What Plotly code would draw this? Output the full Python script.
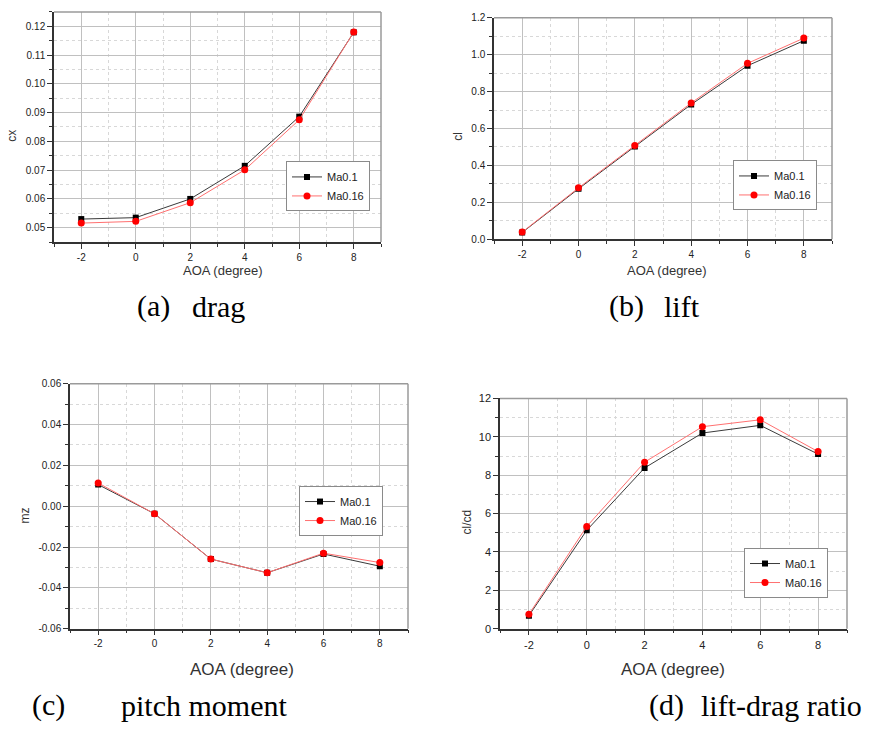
import plotly.graph_objects as go

W, H = 878, 736

aoa = [-2, 0, 2, 4, 6, 8]
aoa_ticks = ["-2", "0", "2", "4", "6", "8"]

cx_ma01 = [0.0530, 0.0535, 0.0600, 0.0715, 0.0886, 0.1179]
cx_ma016 = [0.0516, 0.0522, 0.0587, 0.0701, 0.0875, 0.1180]

cl_ma01 = [0.036, 0.273, 0.502, 0.730, 0.940, 1.076]
cl_ma016 = [0.038, 0.278, 0.508, 0.738, 0.953, 1.090]

mz_ma01 = [0.0106, -0.0037, -0.0259, -0.0326, -0.0234, -0.0294]
mz_ma016 = [0.0114, -0.0037, -0.0259, -0.0326, -0.0230, -0.0276]

ld_ma01 = [0.68, 5.13, 8.38, 10.20, 10.60, 9.10]
ld_ma016 = [0.75, 5.33, 8.68, 10.53, 10.89, 9.23]

series_names = ["Ma0.1", "Ma0.16"]

cx_ticks = [0.05, 0.06, 0.07, 0.08, 0.09, 0.10, 0.11, 0.12]
cx_ticktext = ["0.05", "0.06", "0.07", "0.08", "0.09", "0.10", "0.11", "0.12"]
cl_ticks = [0.0, 0.2, 0.4, 0.6, 0.8, 1.0, 1.2]
cl_ticktext = ["0.0", "0.2", "0.4", "0.6", "0.8", "1.0", "1.2"]
mz_ticks = [-0.06, -0.04, -0.02, 0.0, 0.02, 0.04, 0.06]
mz_ticktext = ["-0.06", "-0.04", "-0.02", "0.00", "0.02", "0.04", "0.06"]
ld_ticks = [0, 2, 4, 6, 8, 10, 12]
ld_ticktext = ["0", "2", "4", "6", "8", "10", "12"]

captions = [("(a)", "drag"), ("(b)", "lift"), ("(c)", "pitch moment"), ("(d)", "lift-drag ratio")]
ytitles = ["cx", "cl", "mz", "cl/cd"]
xtitle = "AOA (degree)"

SANS = "Liberation Sans, Arial, sans-serif"
SERIF = "Liberation Serif, Times New Roman, serif"


def px(x):
    return x / W


def py(y):
    return 1 - y / H


# panel boxes in pixels: left, right, top, bottom
boxes = [
    (54, 381, 6, 240),
    (494, 832, 12, 237),
    (70, 408, 384, 633),
    (500, 847, 399, 633),
]

fig = go.Figure()

panels = [
    (cx_ma01, cx_ma016, cx_ticks, cx_ticktext, [0.045, 0.125], 0.005, 10),
    (cl_ma01, cl_ma016, cl_ticks, cl_ticktext, [0.0, 1.2], 0.1, 10),
    (mz_ma01, mz_ma016, mz_ticks, mz_ticktext, [-0.06, 0.06], 0.01, 10),
    (ld_ma01, ld_ma016, ld_ticks, ld_ticktext, [0, 12], 1, 11),
]

legend_pos = [(286, 158), (733, 157), (299, 488), (744, 551)]

for i, (s1, s2, yt, ytt, yr, ymin, tfs) in enumerate(panels):
    n = "" if i == 0 else str(i + 1)
    leg = "legend" + n
    fig.add_trace(go.Scatter(
        x=aoa, y=s1, name=series_names[0], mode="lines+markers",
        line=dict(color="#3a3a3a", width=1),
        marker=dict(symbol="square", size=6, color="black"),
        xaxis="x" + n, yaxis="y" + n, legend=leg))
    fig.add_trace(go.Scatter(
        x=aoa, y=s2, name=series_names[1], mode="lines+markers",
        line=dict(color="#ff7070", width=1),
        marker=dict(symbol="circle", size=7, color="red"),
        xaxis="x" + n, yaxis="y" + n, legend=leg))

    l, r, t, b = boxes[i]
    common = dict(
        showline=True, linecolor="#333333", linewidth=1.5,
        ticks="outside", ticklen=5, tickcolor="#333333", tickwidth=1,
        showgrid=True, gridcolor="#c0c0c0", gridwidth=1,
        zeroline=False,
        tickfont=dict(family=SANS, size=tfs, color="#222222"),
    )
    fig.layout["xaxis" + n] = dict(
        domain=[px(l), px(r)], anchor="y" + n, range=[-3, 9],
        tickmode="array", tickvals=aoa, ticktext=aoa_ticks,
        minor=dict(tickmode="linear", tick0=-3, dtick=1, ticks="outside", ticklen=3,
                   tickcolor="#333333", showgrid=True, gridcolor="#d8d8d8", griddash="dot"),
        **common)
    fig.layout["yaxis" + n] = dict(
        domain=[py(b), py(t)], anchor="x" + n, range=yr,
        tickmode="array", tickvals=yt, ticktext=ytt,
        minor=dict(tickmode="linear", tick0=yr[0], dtick=ymin, ticks="outside", ticklen=3,
                   tickcolor="#333333", showgrid=True, gridcolor="#d8d8d8", griddash="dot"),
        **common)

    # top and right frame lines
    fig.add_shape(type="line", xref="x" + n + " domain", yref="y" + n + " domain",
                  x0=0, x1=1, y0=1, y1=1, line=dict(color="#9a9a9a", width=1.5))
    fig.add_shape(type="line", xref="x" + n + " domain", yref="y" + n + " domain",
                  x0=1, x1=1, y0=0, y1=1, line=dict(color="#9a9a9a", width=1.5))

    lx, ly = legend_pos[i]
    fig.layout[leg] = dict(
        x=px(lx), y=py(ly), xanchor="left", yanchor="top",
        bgcolor="white", bordercolor="#8a8a8a", borderwidth=1,
        font=dict(family=SANS, size=11, color="#222222"),
        tracegroupgap=0, itemwidth=30,
    )

annotations = []
# x-axis titles
xt_pos = [(223, 269, 13), (667, 269, 13), (242, 674, 17), (673, 674, 17)]
for (x, y, fs) in xt_pos:
    annotations.append(dict(text=xtitle, x=px(x), y=py(y), xref="paper", yref="paper",
                            showarrow=False, xanchor="center", yanchor="middle",
                            font=dict(family=SANS, size=fs, color="#333333")))
# y-axis titles
yt_pos = [(12, 132), (458, 133), (25, 518), (467, 525)]
for k, (x, y) in enumerate(yt_pos):
    annotations.append(dict(text=ytitles[k], x=px(x), y=py(y), xref="paper", yref="paper",
                            showarrow=False, xanchor="center", yanchor="middle", textangle=-90,
                            font=dict(family=SANS, size=12, color="#333333")))
# captions
cap_pos = [((135, 190), 305), ((607, 662), 305), ((30, 119), 711), ((647, 699), 711)]
for k, ((x1, x2), y) in enumerate(cap_pos):
    for txt, xx in zip(captions[k], (x1, x2)):
        annotations.append(dict(text=txt, x=px(xx), y=py(y), xref="paper", yref="paper",
                                showarrow=False, xanchor="left", yanchor="middle",
                                font=dict(family=SERIF, size=30, color="black")))

fig.update_layout(
    width=W, height=H,
    margin=dict(l=0, r=0, t=0, b=0),
    paper_bgcolor="white", plot_bgcolor="white",
    annotations=annotations,
    showlegend=True,
)

fig.write_html("out.html",
               config={"displayModeBar": False},
               post_script="document.body.style.margin='0';document.body.style.padding='0';")
